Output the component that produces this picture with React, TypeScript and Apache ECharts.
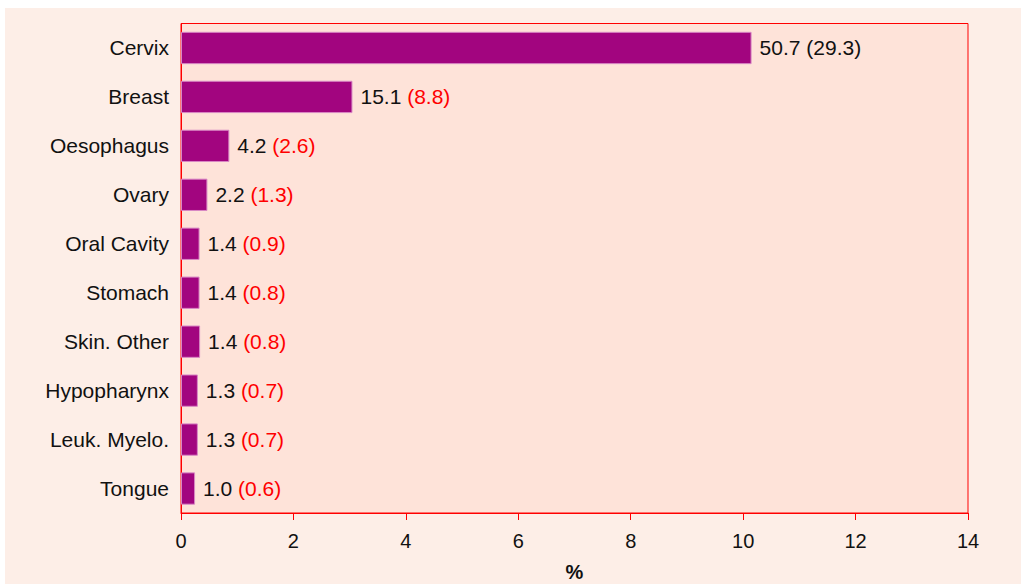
import React, { useEffect, useRef } from "react";
import * as echarts from "echarts";

const categories = ["Cervix", "Breast", "Oesophagus", "Ovary", "Oral Cavity", "Stomach", "Skin. Other", "Hypopharynx", "Leuk. Myelo.", "Tongue"];
const barValues = [10.15, 3.05, 0.86, 0.47, 0.33, 0.33, 0.34, 0.3, 0.3, 0.25];
const rateLabels = ["50.7", "15.1", "4.2", "2.2", "1.4", "1.4", "1.4", "1.3", "1.3", "1.0"];
const shareLabels = ["(29.3)", "(8.8)", "(2.6)", "(1.3)", "(0.9)", "(0.8)", "(0.8)", "(0.7)", "(0.7)", "(0.6)"];
const xTicks = { min: 0, max: 14, interval: 2 };

const FONT = "'Liberation Sans', Arial, Helvetica, sans-serif";

export default function App() {
  const ref = useRef<HTMLDivElement>(null);
  useEffect(() => {
    document.body.style.margin = "0";
    const chart = echarts.init(ref.current!, undefined, { renderer: "svg" });
    chart.setOption({
      animation: false,
      textStyle: { fontFamily: FONT },
      graphic: [
        {
          type: "rect",
          z: -10,
          silent: true,
          shape: { x: 5, y: 8, width: 1016, height: 576 },
          style: { fill: "#fdeee7" },
        },
      ],
      grid: {
        left: 181,
        right: 53,
        top: 23.5,
        bottom: 71,
        containLabel: false,
        outerBoundsMode: "none",
        show: true,
        backgroundColor: "#fee3d9",
        borderColor: "#ff0000",
        borderWidth: 1,
      },
      xAxis: {
        type: "value",
        min: xTicks.min,
        max: xTicks.max,
        interval: xTicks.interval,
        name: "%",
        nameLocation: "middle",
        nameGap: 49,
        nameTextStyle: { fontSize: 20, fontWeight: "bold", color: "#111", fontFamily: FONT },
        axisLine: { show: true, lineStyle: { color: "#ff0000", width: 1 } },
        axisTick: { show: true, length: 7, lineStyle: { color: "#ff0000" } },
        axisLabel: { fontSize: 20, color: "#111", margin: 18, fontFamily: FONT },
        splitLine: { show: false },
      },
      yAxis: {
        type: "category",
        data: categories,
        inverse: true,
        axisLine: { show: true, lineStyle: { color: "#ff0000", width: 1 } },
        axisTick: { show: false },
        axisLabel: { fontSize: 21, color: "#111", margin: 12, fontFamily: FONT },
      },
      series: [
        {
          type: "bar",
          data: barValues.map((v, i) => ({
            value: v,
            label: {
              formatter: i === 0
                ? `{a|${rateLabels[i]}} {a|${shareLabels[i]}}`
                : `{a|${rateLabels[i]}} {b|${shareLabels[i]}}`,
            },
          })),
          barWidth: "66%",
          itemStyle: { color: "#a2057f", borderColor: "#d888c4", borderWidth: 1 },
          label: {
            show: true,
            position: "right",
            distance: 8,
            fontFamily: FONT,
            fontSize: 21,
            rich: {
              a: { fontSize: 21, color: "#111", fontFamily: FONT },
              b: { fontSize: 21, color: "#ff0000", fontFamily: FONT },
            },
          },
        },
      ],
    });
    return () => chart.dispose();
  }, []);
  return <div ref={ref} style={{ width: 1021, height: 584 }} />;
}
